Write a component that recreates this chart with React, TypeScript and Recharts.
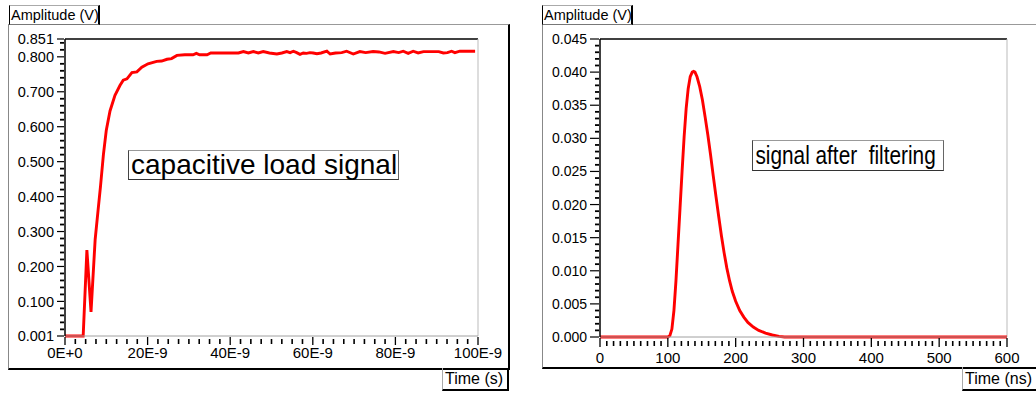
import React from 'react';
import { LineChart, Line, XAxis, YAxis, ReferenceLine } from 'recharts';

const FONT = '"Liberation Sans", Arial, Helvetica, sans-serif';

// ---------- Left chart: capacitive load signal ----------
const leftTime = [
  0, 4.4, 5.3, 6.3, 7.3, 8.0, 8.6, 9.3, 10.0, 10.9, 12.1, 13.3, 14.1, 15.0, 16.2, 17.4, 18.6, 20.1,
  22.2, 23.4, 24.7, 25.8, 27.1, 29.0, 31.0, 31.8, 32.6, 34.4, 35.3, 38.0, 42.0, 43.2, 44.4, 45.6,
  46.8, 48.0, 49.5, 51.3, 52.5, 53.7, 54.5, 55.3, 56.1, 56.9, 57.7, 58.5, 59.3, 60.1, 61.0, 62.0,
  63.4, 64.2, 65.5, 67.0, 68.2, 69.8, 71.4, 72.8, 74.6, 76.0, 77.5, 79.5, 80.8, 81.9, 83.1, 84.3,
  85.5, 86.8, 88.5, 90.5, 91.6, 92.6, 93.6, 94.4, 95.6, 97.5, 99.3,
];
const leftAmp = [
  0.001, 0.001, 0.247, 0.07, 0.277, 0.36, 0.43, 0.52, 0.59, 0.645, 0.69, 0.718, 0.733, 0.737, 0.755,
  0.757, 0.77, 0.78, 0.787, 0.788, 0.793, 0.795, 0.804, 0.806, 0.806, 0.81, 0.806, 0.806, 0.811,
  0.811, 0.811, 0.815, 0.811, 0.815, 0.811, 0.815, 0.811, 0.808, 0.811, 0.815, 0.812, 0.816, 0.812,
  0.807, 0.811, 0.81, 0.812, 0.811, 0.809, 0.811, 0.816, 0.808, 0.811, 0.812, 0.816, 0.808, 0.815,
  0.812, 0.815, 0.814, 0.81, 0.815, 0.812, 0.816, 0.81, 0.816, 0.811, 0.815, 0.815, 0.815, 0.811,
  0.812, 0.816, 0.812, 0.816, 0.816, 0.816,
];
const leftXMajor = [0, 20, 40, 60, 80, 100];
const leftXLabels = ['0E+0', '20E-9', '40E-9', '60E-9', '80E-9', '100E-9'];
const leftYMajor = [0.001, 0.1, 0.2, 0.3, 0.4, 0.5, 0.6, 0.7, 0.8, 0.851];
const leftYLabels = ['0.001', '0.100', '0.200', '0.300', '0.400', '0.500', '0.600', '0.700', '0.800', '0.851'];

// ---------- Right chart: signal after filtering ----------
const rightTime = [
  0, 100, 103, 106, 109, 112, 115, 118, 121, 124, 127, 130, 133, 136, 138, 140, 143, 147, 151, 155,
  159, 163, 167, 171, 175, 179, 183, 187, 191, 195, 200, 206, 212, 218, 226, 234, 244, 254, 264, 272, 600,
];
const rightAmp = [
  0, 0, 0.0002, 0.0012, 0.004, 0.0085, 0.014, 0.0195, 0.025, 0.0302, 0.0345, 0.0375, 0.0393, 0.04,
  0.0401, 0.04, 0.0393, 0.0378, 0.0358, 0.0332, 0.0305, 0.0275, 0.0243, 0.0212, 0.0182, 0.0153,
  0.0127, 0.0104, 0.0085, 0.0069, 0.0054, 0.004, 0.003, 0.0022, 0.0015, 0.001, 0.0006, 0.0003,
  0.0001, 0, 0,
];
const rightXMajor = [0, 100, 200, 300, 400, 500, 600];
const rightXLabels = ['0', '100', '200', '300', '400', '500', '600'];
const rightYMajor = [0, 0.005, 0.01, 0.015, 0.02, 0.025, 0.03, 0.035, 0.04, 0.045];
const rightYLabels = ['0.000', '0.005', '0.010', '0.015', '0.020', '0.025', '0.030', '0.035', '0.040', '0.045'];

const leftData = leftTime.map((t, i) => ({ t, v: leftAmp[i] }));
const rightData = rightTime.map((t, i) => ({ t, v: rightAmp[i] }));

// tick positions (majors + minors)
const range = (from: number, to: number, step: number) => {
  const out: number[] = [];
  const n = Math.round((to - from) / step);
  for (let i = 0; i <= n; i++) out.push(Math.round((from + i * step) * 1e6) / 1e6);
  return out;
};
const merge = (a: number[], b: number[]) =>
  Array.from(new Set([...a, ...b].map((v) => Math.round(v * 1e6) / 1e6))).sort((x, y) => x - y);

const leftXTicks = merge(leftXMajor, range(0, 100, 2.5));
const leftYTicks = merge(leftYMajor, range(0.02, 0.84, 0.02));
const rightXTicks = merge(rightXMajor, range(0, 600, 10));
const rightYTicks = merge(rightYMajor, range(0, 0.045, 0.001));

const findMajor = (majors: number[], v: number) => majors.findIndex((m) => Math.abs(m - v) < 1e-7);

const makeYTick = (majors: number[], labels: string[], fs: number, majLen: number, minLen: number) =>
  (props: any) => {
    const { x, y, payload } = props;
    const i = findMajor(majors, payload.value);
    const major = i >= 0;
    return (
      <g>
        <line x1={x - (major ? majLen : minLen)} x2={x - 1} y1={y} y2={y} stroke="#000" strokeWidth={major ? 1.2 : 1.8} />
        {major && (
          <text x={x - majLen - 3} y={y + fs * 0.36} textAnchor="end" fontSize={fs} fontFamily={FONT} fill="#000">
            {labels[i]}
          </text>
        )}
      </g>
    );
  };

const makeXTick = (majors: number[], labels: string[], fs: number, labelDy: number, majLen: number, minTop: number, minLen: number) =>
  (props: any) => {
    const { x, y, payload } = props;
    const i = findMajor(majors, payload.value);
    const major = i >= 0;
    return (
      <g>
        {major ? (
          <line x1={x} x2={x} y1={y + 1} y2={y + 1 + majLen} stroke="#000" strokeWidth={1.3} />
        ) : (
          <line x1={x} x2={x} y1={y + minTop} y2={y + minTop + minLen} stroke="#000" strokeWidth={1.6} />
        )}
        {major && (
          <text x={x} y={y + labelDy} textAnchor="middle" fontSize={fs} fontFamily={FONT} fill="#000">
            {labels[i]}
          </text>
        )}
      </g>
    );
  };

const box = (s: React.CSSProperties): React.CSSProperties => ({ position: 'absolute', boxSizing: 'border-box', ...s });

export default function App() {
  return (
    <div style={{ position: 'relative', width: 1036, height: 393, background: '#fff', overflow: 'hidden', fontFamily: FONT }}>
      <style>{`body{margin:0}`}</style>

      {/* Left frame */}
      <div style={box({ left: 8, top: 24, width: 502, height: 346, borderTop: '1px solid #999', borderLeft: '1px solid #888', borderRight: '2px solid #000', borderBottom: '2px solid #000' })} />
      <div style={box({ left: 9, top: 5, width: 91, height: 20, borderTop: '1px solid #aaa', borderLeft: '1px solid #000', borderRight: '2px solid #000', borderBottom: '1px solid #777', fontSize: 14.5, lineHeight: '18px', paddingLeft: 1, whiteSpace: 'nowrap', background: '#fff' })}>Amplitude (V)</div>
      <div style={box({ left: 442, top: 368, width: 67, height: 23, borderLeft: '1px solid #aaa', borderRight: '2px solid #000', borderBottom: '2px solid #000', fontSize: 16, lineHeight: '22px', paddingLeft: 2, whiteSpace: 'nowrap' })}>Time (s)</div>

      {/* Right frame */}
      <div style={box({ left: 542, top: 24, width: 600, height: 345, borderTop: '1px solid #999', borderLeft: '1px solid #888', borderBottom: '2px solid #000' })} />
      <div style={box({ left: 542, top: 5, width: 91, height: 20, borderTop: '1px solid #aaa', borderLeft: '1px solid #000', borderRight: '2px solid #000', borderBottom: '1px solid #777', fontSize: 14.5, lineHeight: '18px', paddingLeft: 1, whiteSpace: 'nowrap', background: '#fff' })}>Amplitude (V)</div>
      <div style={box({ left: 962, top: 367, width: 90, height: 24, borderLeft: '1px solid #aaa', borderBottom: '2px solid #000', fontSize: 16, lineHeight: '23px', paddingLeft: 2, whiteSpace: 'nowrap' })}>Time (ns)</div>

      {/* Left chart */}
      <div style={{ position: 'absolute', left: 0, top: 0 }}>
        <LineChart width={520} height={393} data={leftData} margin={{ top: 39, right: 42, bottom: 27, left: 8 }}>
          <XAxis
            type="number"
            dataKey="t"
            domain={[0, 100]}
            ticks={leftXTicks}
            interval={0}
            height={30}
            tickSize={0}
            tickMargin={0}
            tickLine={false}
            axisLine={{ stroke: '#a0a0a0', strokeWidth: 1 }}
            tick={makeXTick(leftXMajor, leftXLabels, 15, 22, 8, 3, 5)}
          />
          <YAxis
            type="number"
            domain={[0.001, 0.851]}
            ticks={leftYTicks}
            interval={0}
            width={57}
            tickSize={0}
            tickMargin={0}
            tickLine={false}
            axisLine={{ stroke: '#000', strokeWidth: 1.5 }}
            tick={makeYTick(leftYMajor, leftYLabels, 14.5, 8, 5)}
          />
          <ReferenceLine y={0.851} stroke="#000" strokeWidth={1.5} />
          <ReferenceLine x={100} stroke="#bbb" strokeWidth={1} />
          <Line type="linear" dataKey="v" stroke="#ff0000" strokeWidth={2.9} dot={false} isAnimationActive={false} />
        </LineChart>
      </div>

      {/* Right chart */}
      <div style={{ position: 'absolute', left: 530, top: 0 }}>
        <LineChart width={506} height={393} data={rightData} margin={{ top: 39, right: 29, bottom: 26, left: 13 }}>
          <XAxis
            type="number"
            dataKey="t"
            domain={[0, 600]}
            ticks={rightXTicks}
            interval={0}
            height={30}
            tickSize={0}
            tickMargin={0}
            tickLine={false}
            axisLine={{ stroke: '#a0a0a0', strokeWidth: 1 }}
            tick={makeXTick(rightXMajor, rightXLabels, 15, 26, 9, 4, 5)}
          />
          <YAxis
            type="number"
            domain={[0, 0.045]}
            ticks={rightYTicks}
            interval={0}
            width={57}
            tickSize={0}
            tickMargin={0}
            tickLine={false}
            axisLine={{ stroke: '#000', strokeWidth: 1.5 }}
            tick={makeYTick(rightYMajor, rightYLabels, 14, 10, 5)}
          />
          <ReferenceLine y={0.045} stroke="#000" strokeWidth={1.5} />
          <ReferenceLine x={600} stroke="#bbb" strokeWidth={1} />
          <Line type="linear" dataKey="v" stroke="#ff0000" strokeWidth={2.9} dot={false} isAnimationActive={false} />
        </LineChart>
      </div>

      {/* Annotations */}
      <div style={box({ left: 128, top: 150, width: 271, height: 30, borderTop: '1px solid #999', borderLeft: '1px solid #444', borderRight: '1px solid #666', borderBottom: '1px solid #333', fontSize: 28, lineHeight: '27px', paddingLeft: 2, whiteSpace: 'nowrap', background: '#fff' })}>capacitive load signal</div>
      <div style={box({ left: 752, top: 140, width: 192, height: 31, borderTop: '1px solid #999', borderLeft: '1px solid #444', borderRight: '1px solid #666', borderBottom: '1px solid #333', whiteSpace: 'nowrap', background: '#fff', overflow: 'hidden' })}>
        <span style={{ display: 'inline-block', fontSize: 26, lineHeight: '28px', transform: 'scaleX(0.8)', transformOrigin: 'left center', paddingLeft: 3, whiteSpace: 'pre' }}>signal after  filtering</span>
      </div>
    </div>
  );
}
